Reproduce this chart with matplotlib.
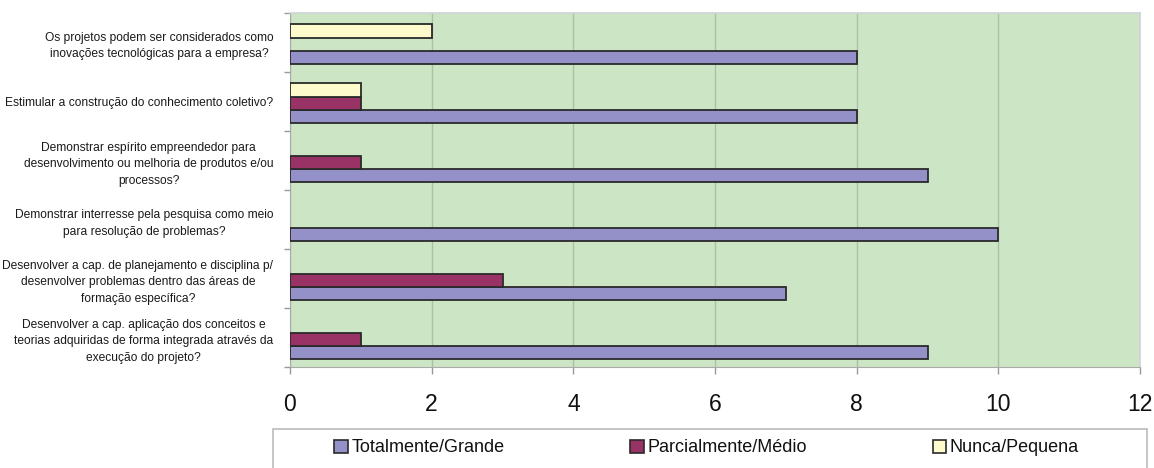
import matplotlib
matplotlib.use("Agg")
import matplotlib.pyplot as plt
from matplotlib.patches import Rectangle, Patch
import numpy as np

categories = [
    "Os projetos podem ser considerados como\ninovações tecnológicas para a empresa?",
    "Estimular a construção do conhecimento coletivo?",
    "Demonstrar espírito empreendedor para\ndesenvolvimento ou melhoria de produtos e/ou\nprocessos?",
    "Demonstrar interresse pela pesquisa como meio\npara resolução de problemas?",
    "Desenvolver a cap. de planejamento e disciplina p/\ndesenvolver problemas dentro das áreas de\nformação específica?",
    "Desenvolver a cap. aplicação dos conceitos e\nteorias adquiridas de forma integrada através da\nexecução do projeto?",
]
series_names = ["Totalmente/Grande", "Parcialmente/Médio", "Nunca/Pequena"]
totalmente = [8, 8, 9, 10, 7, 9]
parcialmente = [0, 1, 1, 0, 3, 1]
nunca = [2, 1, 0, 0, 0, 0]
x_ticks = [0, 2, 4, 6, 8, 10, 12]

colors = ["#9490c8", "#993366", "#fdfbcc"]
bg = "#cce5c4"
font = ["Liberation Sans", "DejaVu Sans"]

W, H = 1154, 468
fig = plt.figure(figsize=(W / 100, H / 100), dpi=100)
fig.patch.set_facecolor("white")

# plot area in pixel coordinates
L, R, T, B = 290, 1140, 13, 367
ax = fig.add_axes([L / W, 1 - B / H, (R - L) / W, (B - T) / H])
ax.set_facecolor(bg)

y = np.arange(len(categories))
h = 0.225
shift = 0.03
values = [totalmente, parcialmente, nunca]
offsets = [h, 0.0, -h]
for vals, off, col in zip(values, offsets, colors):
    v = np.array(vals, dtype=float)
    mask = v > 0
    ax.barh(y[mask] + off + shift, v[mask], height=h, color=col,
            edgecolor="#2a2a2a", linewidth=1.3, zorder=3)

ax.set_xlim(0, 12)
ax.set_ylim(len(categories) - 0.5, -0.5)
ax.set_xticks(x_ticks)
ax.set_xticklabels([str(t) for t in x_ticks], fontsize=16.5, family=font,
                   color="#111111")
ax.xaxis.grid(True, color="#aebfa8", linewidth=1.0, zorder=1)
ax.set_axisbelow(True)

ax.set_yticks(y)
ax.set_yticklabels(categories, fontsize=8.65, family=font, color="#1a1a1a",
                   multialignment="center", linespacing=1.5)
ax.tick_params(axis="y", length=0, pad=12)
ax.set_yticks(np.arange(-0.5, len(categories) + 0.5, 1), minor=True)
ax.tick_params(axis="y", which="minor", length=4, color="#999999", width=1)
ax.tick_params(axis="x", length=5, color="#999999", width=1, pad=14)

for side in ["top", "right"]:
    ax.spines[side].set_color("#cfd3d8")
    ax.spines[side].set_linewidth(1.2)
ax.spines["left"].set_color("#aaaaaa")
ax.spines["bottom"].set_color("#aaaaaa")

# legend frame
lx0, lx1, ly0 = 273, 1147, 429
fig.add_artist(Rectangle((lx0 / W, -0.02), (lx1 - lx0) / W, (H - ly0) / H + 0.02,
                         transform=fig.transFigure, facecolor="white",
                         edgecolor="#bbbbbb", linewidth=1.2))

handles = [Patch(facecolor=c, edgecolor="#2a2a2a", linewidth=1.2) for c in colors]
ix0, ix1, iy = 334, 1079, 448
leg = fig.legend(handles, series_names, ncol=3, mode="expand",
                 bbox_to_anchor=(ix0 / W, 1 - iy / H - 0.03, (ix1 - ix0) / W, 0.06),
                 loc="center", frameon=False, borderpad=0, borderaxespad=0,
                 handlelength=0.75, handleheight=0.75, handletextpad=0.2,
                 prop={"family": font, "size": 13})
for t in leg.get_texts():
    t.set_color("#111111")

fig.savefig("out.png", dpi=100, facecolor="white")
